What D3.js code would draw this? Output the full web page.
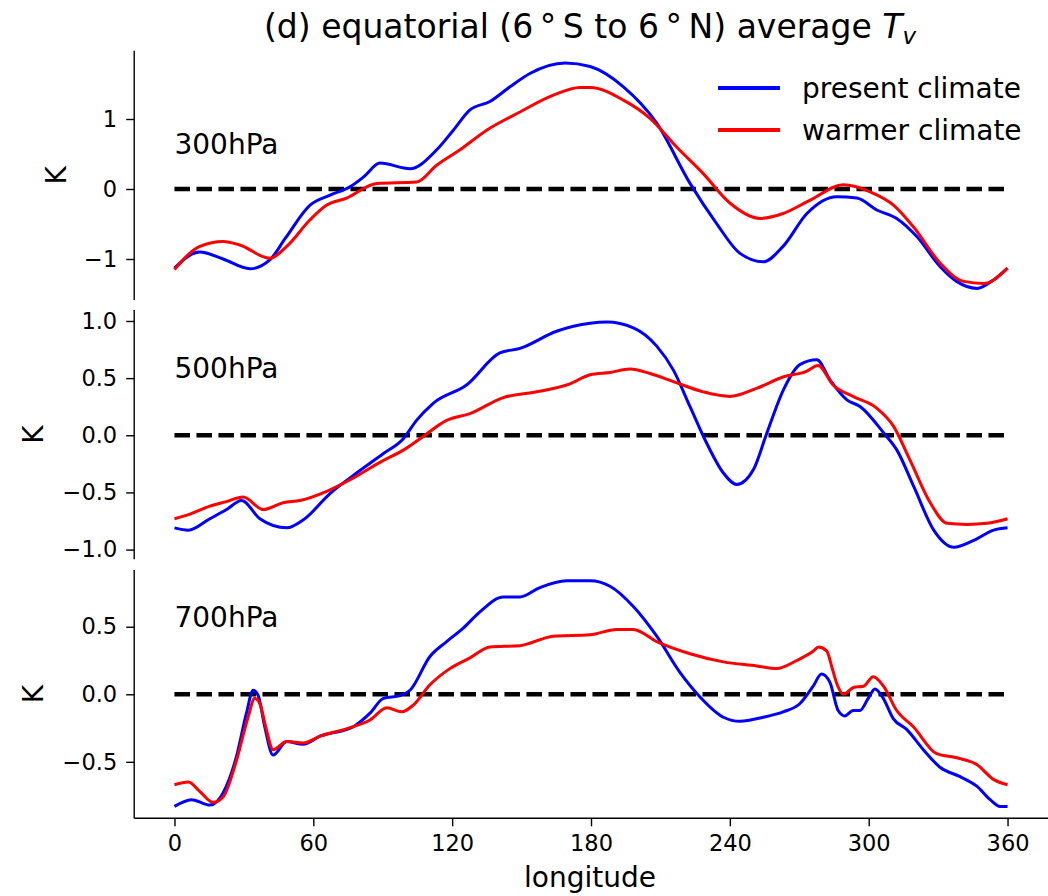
<!DOCTYPE html>
<html>
<head>
<meta charset="utf-8">
<script src="https://cdn.jsdelivr.net/npm/d3@7"></script>
<style>
  body { margin: 0; background: #fff; }
  text { font-family: "DejaVu Sans", sans-serif; fill: #000; }
</style>
</head>
<body>
<div id="chart"></div>
<script>
var width = 1048, height = 896;

// longitude ticks
var xTicks = [0, 60, 120, 180, 240, 300, 360];

// 300hPa  [longitude, K]
var p300Present = [[0,-1.13],[11,-0.9],[21,-1.0],[32.6,-1.14],[41.3,-1.01],[48,-0.7],[58.6,-0.23],[67,-0.09],[75.8,0.03],[82,0.18],[88.8,0.37],[101.8,0.29],[113.3,0.56],[120.5,0.84],[127.7,1.13],[136.3,1.25],[145,1.46],[153.6,1.65],[168.8,1.8],[179.6,1.75],[194,1.46],[208.4,0.94],[222.8,0.08],[234.2,-0.49],[244.4,-0.92],[254.4,-1.04],[263,-0.82],[273.3,-0.35],[286.2,-0.11],[294.9,-0.13],[303.5,-0.3],[312.1,-0.42],[320.8,-0.68],[330.9,-1.11],[338,-1.32],[346.8,-1.42],[353.9,-1.3],[360,-1.13]];
var p300Warmer = [[0,-1.15],[11,-0.82],[21,-0.75],[28.2,-0.8],[41.3,-0.99],[48.5,-0.82],[58.6,-0.44],[65.8,-0.23],[74.4,-0.13],[87.4,0.08],[104.6,0.1],[113.3,0.34],[123.4,0.56],[134.9,0.84],[149.3,1.1],[163.7,1.34],[175.2,1.45],[179.6,1.45],[194,1.27],[205.5,1.01],[217,0.6],[228.5,0.22],[240,-0.2],[253,-0.42],[263,-0.35],[274.7,-0.16],[289.1,0.06],[300.6,-0.04],[310.7,-0.23],[319.3,-0.54],[330.9,-1.06],[341,-1.32],[349.6,-1.35],[360,-1.13]];

// 500hPa
var p500Present = [[0,-0.81],[6,-0.83],[15.3,-0.73],[22.5,-0.65],[29,-0.57],[36.9,-0.73],[48.5,-0.81],[55.7,-0.74],[67.2,-0.51],[78.7,-0.33],[90.3,-0.16],[98.9,-0.03],[104.6,0.13],[111.8,0.28],[126.2,0.44],[140.6,0.72],[149.3,0.76],[165.1,0.91],[179.6,0.98],[186.8,0.99],[198.3,0.94],[208.4,0.78],[215.6,0.57],[222.8,0.25],[230,-0.07],[237.2,-0.33],[243,-0.43],[250.2,-0.3],[256,0.02],[263.2,0.4],[270.4,0.62],[277.6,0.66],[283.4,0.48],[290.6,0.31],[296.4,0.25],[306.5,0.02],[312.2,-0.13],[319.5,-0.45],[328.1,-0.83],[336.8,-0.98],[345.4,-0.92],[354,-0.83],[360,-0.81]];
var p500Warmer = [[0,-0.73],[6.7,-0.69],[15.3,-0.62],[22.5,-0.58],[29.7,-0.54],[38.4,-0.65],[47,-0.59],[54.2,-0.57],[65.8,-0.49],[75.8,-0.39],[90.3,-0.22],[98.9,-0.13],[107.5,-0.01],[117.6,0.13],[127.7,0.19],[142.1,0.33],[156.5,0.38],[170.9,0.45],[179.6,0.53],[188.2,0.55],[196.9,0.58],[205.5,0.54],[215.6,0.47],[228.5,0.38],[240,0.34],[251.5,0.41],[263,0.51],[273.1,0.56],[278.1,0.61],[284.6,0.44],[293.2,0.34],[303.3,0.24],[310.7,0.08],[317.9,-0.22],[326.6,-0.59],[333.8,-0.77],[342.4,-0.78],[351.1,-0.77],[360,-0.73]];

// 700hPa
var p700Present = [[0,-0.83],[7.4,-0.78],[15.3,-0.82],[21,-0.73],[26.8,-0.46],[31.1,-0.14],[34,0.03],[36.2,-0.01],[39,-0.24],[42.6,-0.45],[48.5,-0.35],[55.7,-0.37],[62.9,-0.31],[77.3,-0.24],[84.5,-0.14],[90.3,-0.03],[97.5,-0.01],[101.8,0.03],[110.4,0.28],[117.6,0.39],[124.8,0.49],[132,0.61],[142.1,0.72],[149.3,0.72],[157.9,0.79],[169.4,0.84],[179.6,0.84],[188.2,0.8],[198.3,0.65],[208.4,0.43],[218.5,0.16],[227.1,-0.02],[237.2,-0.17],[244.4,-0.2],[254.4,-0.17],[263,-0.13],[270.2,-0.07],[276,0.06],[279.6,0.15],[283.2,0.09],[286.8,-0.12],[289.7,-0.16],[293.3,-0.12],[296.2,-0.12],[299.8,-0.03],[302.7,0.04],[306.3,-0.03],[310.6,-0.18],[316.4,-0.26],[323.6,-0.41],[330.8,-0.54],[339.5,-0.61],[346.7,-0.68],[352.5,-0.78],[356.8,-0.83],[360,-0.83]];
var p700Warmer = [[0,-0.67],[6,-0.65],[11,-0.72],[16.7,-0.8],[21,-0.76],[26.8,-0.49],[31.8,-0.17],[34.7,-0.03],[36.9,-0.07],[39.7,-0.26],[42.6,-0.41],[48.5,-0.35],[55.7,-0.36],[62.9,-0.31],[77.3,-0.24],[84.5,-0.19],[91.8,-0.1],[98.2,-0.13],[103.2,-0.08],[110.4,0.07],[119,0.19],[127.7,0.27],[136.3,0.35],[149.3,0.36],[163.7,0.43],[179.6,0.44],[191.1,0.48],[198.3,0.48],[208.4,0.39],[222.8,0.3],[237.2,0.24],[251.6,0.21],[260.2,0.19],[268.9,0.25],[276.1,0.32],[278.3,0.35],[281.9,0.32],[284.1,0.2],[286.2,0.08],[289.1,0.0],[293.4,0.05],[297.8,0.06],[302,0.13],[306.4,0.06],[312.1,-0.12],[319.3,-0.24],[329.4,-0.44],[338,-0.47],[346.7,-0.52],[353.9,-0.63],[360,-0.67]];

var levels = ["300hPa", "500hPa", "700hPa"];
var seriesNames = ["present climate", "warmer climate"];
var seriesColors = ["#0000ff", "#ff0000"];

var panels = [
  {label: levels[0], present: p300Present, warmer: p300Warmer,
   ydom: [-1.586, 1.976], top: 50.7, bottom: 300, ticks: [-1, 0, 1], fmt: "d", kx: 66},
  {label: levels[1], present: p500Present, warmer: p500Warmer,
   ydom: [-1.085, 1.096], top: 310, bottom: 559.3, ticks: [-1, -0.5, 0, 0.5, 1], fmt: ".1f", kx: 43},
  {label: levels[2], present: p700Present, warmer: p700Warmer,
   ydom: [-0.918, 0.92], top: 570, bottom: 818.3, ticks: [-0.5, 0, 0.5], fmt: ".1f", kx: 43}
];

var svg = d3.select("#chart").append("svg")
            .attr("width", width)
            .attr("height", height);

var xScale = d3.scaleLinear()
               .domain([-17.4, 378])
               .range([134.2, 1049.2]);

var minus = function(s) { return s.replace("-", "\u2212"); };

panels.forEach(function(p, i) {
  var yScale = d3.scaleLinear().domain(p.ydom).range([p.bottom, p.top]);
  var g = svg.append("g");

  // left axis
  var yaxis = d3.axisLeft(yScale)
                .tickValues(p.ticks)
                .tickSize(8)
                .tickPadding(9)
                .tickFormat(function(d) { return minus(d3.format(p.fmt)(d)); });
  var ya = g.append("g")
            .attr("transform", "translate(" + xScale.range()[0] + ",0)")
            .call(yaxis);
  ya.select(".domain").attr("stroke-width", 1.4).attr("d",
     "M0," + p.top + "V" + p.bottom);
  ya.selectAll(".tick line").attr("stroke-width", 1.4);
  ya.selectAll(".tick text").style("font-size", "22.5px")
    .style("font-family", "DejaVu Sans");

  // y label
  g.append("text")
   .attr("transform", "translate(" + p.kx + "," + (p.top + p.bottom) / 2 + ") rotate(-90)")
   .attr("text-anchor", "middle")
   .style("font-size", "28px")
   .text("K");

  // zero line
  g.append("line")
   .attr("x1", xScale(0)).attr("x2", xScale(360))
   .attr("y1", yScale(0)).attr("y2", yScale(0))
   .attr("stroke", "#000")
   .attr("stroke-width", 4.5)
   .attr("stroke-dasharray", "15.5,6.5");

  var line = d3.line()
               .x(function(d) { return xScale(d[0]); })
               .y(function(d) { return yScale(d[1]); })
               .curve(d3.curveMonotoneX);

  [p.present, p.warmer].forEach(function(s, k) {
    g.append("path")
     .datum(s)
     .attr("d", line)
     .attr("fill", "none")
     .attr("stroke", seriesColors[k])
     .attr("stroke-width", 3)
     .attr("stroke-linejoin", "round");
  });

  // level label
  g.append("text")
   .attr("x", xScale(0))
   .attr("y", yScale(0.5))
   .style("font-size", "28px")
   .text(p.label);

  if (i === 2) {
    var xaxis = d3.axisBottom(xScale)
                  .tickValues(xTicks)
                  .tickSize(8)
                  .tickPadding(9);
    var xa = g.append("g")
              .attr("transform", "translate(0," + p.bottom + ")")
              .call(xaxis);
    xa.select(".domain").attr("stroke-width", 1.4)
      .attr("d", "M" + xScale.range()[0] + ",0H" + xScale.range()[1]);
    xa.selectAll(".tick line").attr("stroke-width", 1.4);
    xa.selectAll(".tick text").style("font-size", "22.5px")
      .style("font-family", "DejaVu Sans");

    svg.append("text")
       .attr("x", 590)
       .attr("y", 887)
       .attr("text-anchor", "middle")
       .style("font-size", "28px")
       .text("longitude");
  }
});

// legend
var legend = svg.append("g");
seriesNames.forEach(function(name, k) {
  var yy = 88 + k * 42;
  legend.append("line")
        .attr("x1", 718).attr("x2", 780)
        .attr("y1", yy).attr("y2", yy)
        .attr("stroke", seriesColors[k])
        .attr("stroke-width", 4);
  legend.append("text")
        .attr("x", 802)
        .attr("y", yy + 10)
        .style("font-size", "28px")
        .text(name);
});

// title
var title = svg.append("text")
               .attr("x", 590)
               .attr("y", 38)
               .attr("text-anchor", "middle")
               .style("font-size", "33px");
title.append("tspan").text("(d) equatorial (6\u2009\u00b0\u2009S to 6\u2009\u00b0\u2009N) average ");
title.append("tspan").style("font-style", "italic").text("T");
title.append("tspan").style("font-style", "italic").style("font-size", "23px")
     .attr("dy", 6).text("v");
</script>
</body>
</html>
